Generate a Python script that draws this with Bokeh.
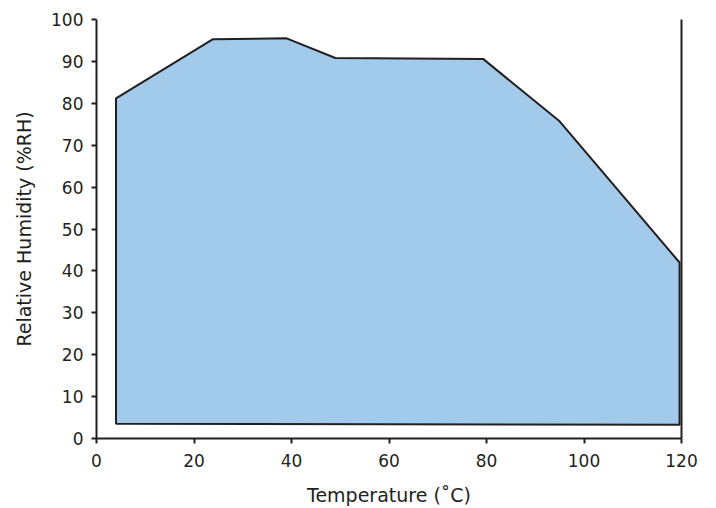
from bokeh.plotting import figure
from bokeh.models import Range1d, FixedTicker, LinearAxis
from bokeh.embed import file_html
from bokeh.resources import INLINE

# Envelope of operating range (temperature °C, relative humidity %RH)
temperature = [4.0, 4.0, 23.9, 39.0, 49.0, 79.3, 95.0, 119.6, 119.6]
humidity = [3.5, 81.2, 95.3, 95.5, 90.8, 90.6, 75.7, 42.0, 3.3]

x_ticks = [0, 20, 40, 60, 80, 100, 120]
y_ticks = [0, 10, 20, 30, 40, 50, 60, 70, 80, 90, 100]

FONT = "DejaVu Sans"
TXT = "#231F20"

p = figure(width=716, height=508, output_backend="svg", toolbar_location=None,
           x_range=Range1d(0, 120), y_range=Range1d(0, 100),
           min_border_left=96, min_border_right=35, min_border_top=19, min_border_bottom=70)
p.outline_line_color = None
p.xgrid.visible = False
p.ygrid.visible = False
p.background_fill_color = "white"

p.patch(temperature, humidity, fill_color="#A2CBEB", line_color="#231F20", line_width=2)

for ax in (p.xaxis[0], p.yaxis[0]):
    ax.axis_line_color = "#231F20"
    ax.axis_line_width = 2
    ax.major_tick_line_color = "#231F20"
    ax.major_tick_line_width = 2
    ax.major_tick_out = 5
    ax.major_tick_in = 0
    ax.minor_tick_line_color = None
    ax.major_label_text_font = FONT
    ax.major_label_text_font_size = "17px"
    ax.major_label_text_color = TXT
    ax.axis_label_text_font = FONT
    ax.axis_label_text_font_size = "19px"
    ax.axis_label_text_font_style = "normal"
    ax.axis_label_text_color = TXT

p.xaxis.ticker = FixedTicker(ticks=x_ticks)
p.yaxis.ticker = FixedTicker(ticks=y_ticks)
p.xaxis.axis_label = "Temperature (˚C)"
p.yaxis.axis_label = "Relative Humidity (%RH)"
p.xaxis.major_label_standoff = 10
p.yaxis.major_label_standoff = 8
p.xaxis.axis_label_standoff = 14
p.yaxis.axis_label_standoff = 13

right = LinearAxis(ticker=FixedTicker(ticks=[]), axis_line_color="#231F20", axis_line_width=2,
                   major_tick_line_color=None, minor_tick_line_color=None,
                   major_label_text_alpha=0)
p.add_layout(right, "right")

open("out.html", "w").write(file_html(p, INLINE))
